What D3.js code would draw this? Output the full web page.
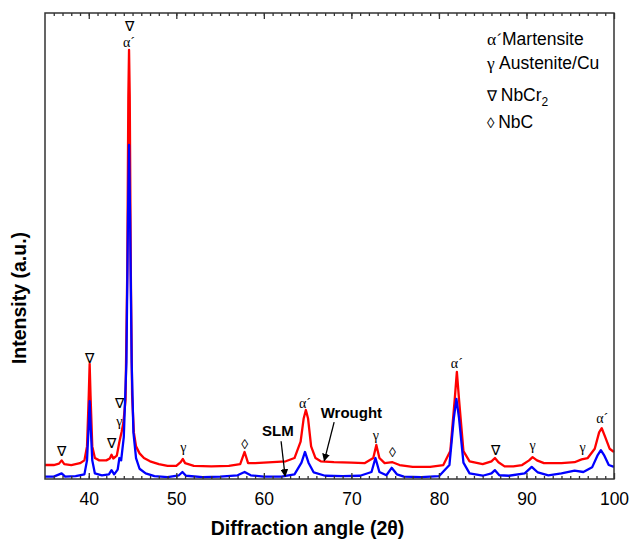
<!DOCTYPE html>
<html>
<head>
<meta charset="utf-8">
<script src="https://cdn.jsdelivr.net/npm/d3@7"></script>
<style>
  body { margin: 0; background: #fff; }
</style>
</head>
<body>
<div id="xrd"></div>
<script>
// Wrought sample (red), [2theta, intensity a.u.]
const wrought = [
    [35.0, 30], [36.0, 30], [36.6, 33], [36.9, 40], [37.2, 32], [38.0, 30], [39.0, 34],
    [39.5, 40], [39.8, 70], [40.0, 180], [40.1, 247], [40.2, 180], [40.4, 70], [40.7, 45],
    [41.2, 40], [42.0, 40], [42.4, 44], [42.6, 52], [42.8, 44], [43.2, 50], [43.5, 80],
    [43.75, 101], [43.95, 120], [44.2, 170], [44.4, 450], [44.52, 820], [44.6, 921],
    [44.68, 820], [44.8, 450], [44.95, 180], [45.15, 100], [45.4, 70], [45.8, 55],
    [46.3, 45], [47.0, 38], [48.0, 32], [49.0, 28], [50.0, 28], [50.5, 36], [50.75, 43],
    [51.0, 34], [52.0, 28], [54.0, 27], [56.0, 28], [57.3, 32], [57.8, 58], [58.2, 34],
    [59.0, 34], [61.0, 36], [62.5, 38], [63.5, 45], [64.2, 80], [64.55, 130], [64.8, 148],
    [65.05, 130], [65.4, 70], [65.9, 45], [66.5, 38], [68.0, 36], [70.0, 35], [71.5, 34],
    [72.5, 45], [72.85, 73], [73.2, 45], [73.8, 34], [74.7, 36], [75.5, 30], [77.0, 26],
    [79.0, 26], [80.5, 30], [81.3, 60], [81.8, 170], [82.05, 230], [82.3, 170], [82.8, 60],
    [83.5, 38], [85.0, 32], [86.0, 38], [86.4, 45], [86.8, 36], [87.5, 27], [88.5, 27],
    [89.5, 30], [90.3, 40], [90.7, 47], [91.2, 40], [92.0, 34], [94.0, 34], [95.5, 36],
    [96.3, 42], [97.0, 45], [97.8, 65], [98.3, 100], [98.6, 109], [99.0, 90], [99.5, 65],
    [100.0, 58]
];

// SLM sample (blue)
const slm = [
    [35.0, 5], [36.0, 5], [36.9, 12], [37.3, 5], [38.5, 6], [39.5, 10], [39.8, 40],
    [40.0, 120], [40.1, 167], [40.2, 120], [40.4, 40], [40.7, 12], [41.5, 8], [42.3, 10],
    [42.6, 19], [42.9, 10], [43.3, 20], [43.5, 45], [43.7, 40], [44.0, 90], [44.3, 250],
    [44.48, 560], [44.6, 717], [44.72, 560], [44.9, 250], [45.1, 100], [45.4, 45],
    [45.8, 22], [46.5, 12], [47.5, 6], [49.0, 4], [50.3, 8], [50.7, 15], [51.1, 7],
    [53.0, 4], [55.0, 5], [57.0, 8], [57.8, 15], [58.5, 8], [60.0, 5], [62.0, 5],
    [63.5, 10], [64.3, 35], [64.7, 58], [65.1, 35], [65.7, 14], [67.0, 7], [69.0, 6],
    [71.0, 7], [72.3, 15], [72.75, 45], [73.2, 15], [74.0, 8], [74.6, 24], [75.2, 10],
    [76.0, 5], [78.0, 4], [80.0, 6], [81.2, 30], [81.7, 130], [82.0, 172], [82.3, 130],
    [82.8, 35], [83.5, 12], [85.0, 7], [86.0, 12], [86.4, 19], [86.9, 8], [88.0, 7],
    [89.8, 12], [90.6, 26], [91.3, 14], [92.5, 8], [94.0, 12], [95.5, 18], [96.5, 15],
    [97.5, 25], [98.1, 50], [98.5, 62], [98.9, 50], [99.4, 30], [100.0, 26]
];

// phase marks: [2theta, symbol, baseline intensity]
const peakLabels = [
    [36.9, "∇", 49], [40.1, "∇", 249], [42.6, "∇", 67], [43.5, "∇", 152], [43.5, "γ", 114],
    [44.6, "∇", 961], [44.6, "α´", 927], [50.8, "γ", 58], [57.8, "◊", 64], [64.7, "α´", 152],
    [72.8, "γ", 84], [74.7, "◊", 47], [82.05, "α´", 238], [86.5, "∇", 52], [90.7, "γ", 62],
    [96.4, "γ", 58], [98.65, "α´", 120]
];

// sample name callouts: text position, arrow tail, arrow head
const callouts = [
    { name: "SLM", at: [61.6, 92], tail: [61.97, 81], head: [62.43, 6] },
    { name: "Wrought", at: [70.0, 131], tail: [68.03, 122], head: [66.9, 39] }
];

const xTicks = [40, 50, 60, 70, 80, 90, 100];

const W = 630, H = 539;
const margin = { top: 13, right: 16, bottom: 60, left: 45 };
const width = W - margin.left - margin.right;
const height = H - margin.top - margin.bottom;

const svg = d3.select("#xrd").append("svg")
    .attr("width", W)
    .attr("height", H)
    .style("font-family", "'Liberation Sans', Arial, sans-serif");

const g = svg.append("g")
    .attr("transform", `translate(${margin.left},${margin.top})`);

const x = d3.scaleLinear().domain([35, 100]).range([0, width]);
const y = d3.scaleLinear().domain([0, 1000]).range([height, 0]);

const line = d3.line()
    .x(d => x(d[0]))
    .y(d => y(d[1]));

g.append("path")
    .datum(wrought)
    .attr("fill", "none")
    .attr("stroke", "#ff0000")
    .attr("stroke-width", 2.3)
    .attr("stroke-linejoin", "round")
    .attr("d", line);

g.append("path")
    .datum(slm)
    .attr("fill", "none")
    .attr("stroke", "#0000ff")
    .attr("stroke-width", 2.3)
    .attr("stroke-linejoin", "round")
    .attr("d", line);

// frame
g.append("rect")
    .attr("width", width)
    .attr("height", height)
    .attr("fill", "none")
    .attr("stroke", "#333")
    .attr("stroke-width", 1.5);

const minorTicks = d3.range(36, 100);

// bottom axis, ticks pointing inward
const bottomMinor = g.append("g")
    .attr("transform", `translate(0,${height})`)
    .call(d3.axisBottom(x).tickValues(minorTicks).tickSize(-3).tickFormat(""));
const bottomMajor = g.append("g")
    .attr("transform", `translate(0,${height})`)
    .call(d3.axisBottom(x).tickValues(xTicks).tickSize(-6).tickPadding(14).tickFormat(d3.format("d")));

const topMinor = g.append("g")
    .call(d3.axisTop(x).tickValues(minorTicks).tickSize(-3).tickFormat(""));
const topMajor = g.append("g")
    .call(d3.axisTop(x).tickValues(xTicks).tickSize(-6).tickFormat(""));

[bottomMinor, bottomMajor, topMinor, topMajor].forEach(a => {
    a.select(".domain").remove();
    a.selectAll("line").attr("stroke", "#333").attr("stroke-width", 1.3);
});

bottomMajor.selectAll("text")
    .style("font-family", "'Liberation Sans', Arial, sans-serif")
    .style("font-size", "17.5px")
    .attr("fill", "#000");

// axis titles
svg.append("text")
    .attr("x", margin.left + width / 2 - 22)
    .attr("y", 535)
    .attr("text-anchor", "middle")
    .style("font-size", "19.5px")
    .style("font-weight", "bold")
    .text("Diffraction angle (2θ)");

svg.append("text")
    .attr("transform", "rotate(-90)")
    .attr("x", -298)
    .attr("y", 26)
    .attr("text-anchor", "middle")
    .style("font-size", "19.5px")
    .style("font-weight", "bold")
    .text("Intensity (a.u.)");

// phase labels
g.selectAll(".peak-label")
    .data(peakLabels)
    .enter().append("text")
    .attr("class", "peak-label")
    .attr("x", d => x(d[0]))
    .attr("y", d => y(d[2]))
    .attr("text-anchor", "middle")
    .style("font-family", "'Liberation Serif', 'Times New Roman', serif")
    .style("font-size", "14px")
    .text(d => d[1]);

// arrows
svg.append("defs").append("marker")
    .attr("id", "arrowhead")
    .attr("viewBox", "0 0 10 10")
    .attr("refX", 9)
    .attr("refY", 5)
    .attr("markerWidth", 6)
    .attr("markerHeight", 6)
    .attr("orient", "auto")
    .append("path")
    .attr("d", "M0,0 L10,5 L0,10 z")
    .attr("fill", "#000");

g.selectAll(".callout-arrow")
    .data(callouts)
    .enter().append("line")
    .attr("class", "callout-arrow")
    .attr("x1", d => x(d.tail[0]))
    .attr("y1", d => y(d.tail[1]))
    .attr("x2", d => x(d.head[0]))
    .attr("y2", d => y(d.head[1]))
    .attr("stroke", "#000")
    .attr("stroke-width", 1.3)
    .attr("marker-end", "url(#arrowhead)");

g.selectAll(".callout-text")
    .data(callouts)
    .enter().append("text")
    .attr("class", "callout-text")
    .attr("x", d => x(d.at[0]))
    .attr("y", d => y(d.at[1]))
    .attr("text-anchor", "middle")
    .style("font-size", "15px")
    .style("font-weight", "bold")
    .text(d => d.name);

// legend
const serif = "'Liberation Serif', 'Times New Roman', serif";
const legend = svg.append("g")
    .style("font-size", "17.5px");

const l1 = legend.append("text").attr("x", 487).attr("y", 45);
l1.append("tspan").style("font-family", serif).text("α´");
l1.append("tspan").text("Martensite");

const l2 = legend.append("text").attr("x", 487).attr("y", 69);
l2.append("tspan").style("font-family", serif).text("γ ");
l2.append("tspan").text("Austenite/Cu");

const l3 = legend.append("text").attr("x", 487).attr("y", 101);
l3.append("tspan").style("font-family", serif).style("font-size", "15px").text("∇ ");
l3.append("tspan").text("NbCr");
l3.append("tspan").attr("dy", 5).style("font-size", "12px").text("2");

const l4 = legend.append("text").attr("x", 487).attr("y", 128);
l4.append("tspan").style("font-family", serif).style("font-size", "15px").text("◊ ");
l4.append("tspan").text("NbC");
</script>
</body>
</html>
